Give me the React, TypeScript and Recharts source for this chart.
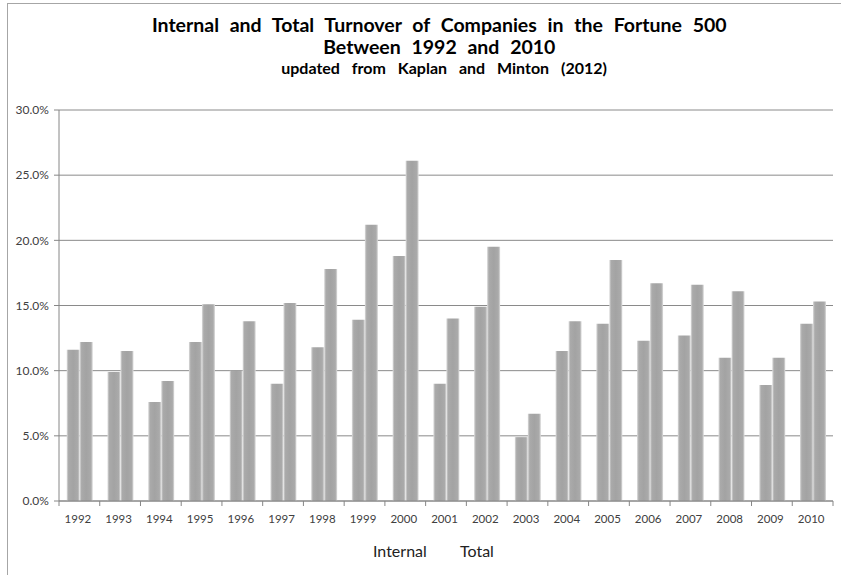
import React from "react";
import { BarChart, Bar, XAxis, YAxis, CartesianGrid } from "recharts";

const years = ["1992","1993","1994","1995","1996","1997","1998","1999","2000","2001","2002","2003","2004","2005","2006","2007","2008","2009","2010"];
const internal = [11.6, 9.9, 7.6, 12.2, 10.0, 9.0, 11.8, 13.9, 18.8, 9.0, 14.9, 4.9, 11.5, 13.6, 12.3, 12.7, 11.0, 8.9, 13.6];
const total = [12.2, 11.5, 9.2, 15.1, 13.8, 15.2, 17.8, 21.2, 26.1, 14.0, 19.5, 6.7, 13.8, 18.5, 16.7, 16.6, 16.1, 11.0, 15.3];
const yTicks = [0, 5, 10, 15, 20, 25, 30];
const titleLines = [
  "Internal and Total Turnover of Companies in the Fortune 500",
  "Between 1992 and 2010",
];
const subtitle = "updated from Kaplan and Minton (2012)";
const seriesNames = ["Internal", "Total"];

const data = years.map((y, i) => ({ year: y, internal: internal[i], total: total[i] }));

const W = 841;
const H = 575;
const margin = { top: 110, right: 8, bottom: 44, left: 0 };
const yAxisW = 59;
const xAxisH = 30;
const FONT = "Lato, 'Open Sans', sans-serif";
const NB = "\u00a0";

const plotW = W - margin.left - margin.right - yAxisW;
const band = plotW / years.length;

const XTick = (props: any) => {
  const { x, y, payload, index } = props;
  const isLast = index === years.length - 1;
  return (
    <g>
      <line x1={x - band / 2} x2={x - band / 2} y1={y - 8} y2={y - 3} stroke="#868686" />
      {isLast && <line x1={x + band / 2} x2={x + band / 2} y1={y - 8} y2={y - 3} stroke="#868686" />}
      <text x={x} y={y + 14} textAnchor="middle" fontSize={11.5} fill="#404040" fontFamily={FONT}>
        {payload.value + NB}
      </text>
    </g>
  );
};

export default function App() {
  return (
    <div style={{ position: "absolute", left: 0, top: 0, width: W, height: H, overflow: "hidden", background: "#fff" }}>
      <div style={{ position: "absolute", left: 7, top: 3, width: 1000, height: 1000, border: "1px solid #a6a6a6", boxSizing: "border-box" }} />
      <BarChart
        width={W}
        height={H}
        data={data}
        margin={margin}
        barCategoryGap="19%"
        barGap={0}
      >
        <defs>
          <linearGradient id="barGrad" x1="0" y1="0" x2="1" y2="0">
            <stop offset="0%" stopColor="#dcdcdc" />
            <stop offset="14%" stopColor="#aaaaaa" />
            <stop offset="50%" stopColor="#a3a3a3" />
            <stop offset="86%" stopColor="#aaaaaa" />
            <stop offset="100%" stopColor="#dcdcdc" />
          </linearGradient>
        </defs>
        <CartesianGrid vertical={false} stroke="#8a8a8a" />
        <XAxis
          dataKey="year"
          height={xAxisH}
          stroke="#868686"
          tickLine={false}
          tick={<XTick />}
          interval={0}
        />
        <YAxis
          width={yAxisW}
          domain={[0, 30]}
          ticks={yTicks}
          stroke="#868686"
          tickSize={5}
          tickMargin={2}
          tick={{ fontSize: 12, fill: "#404040", fontFamily: FONT }}
          tickFormatter={(v: number) => v.toFixed(1) + "%" + NB}
        />
        <Bar dataKey="internal" name={seriesNames[0]} fill="url(#barGrad)" isAnimationActive={false} />
        <Bar dataKey="total" name={seriesNames[1]} fill="url(#barGrad)" isAnimationActive={false} />
      </BarChart>
      <div style={{ position: "absolute", left: 0, width: 900, top: 14, textAlign: "center", fontFamily: FONT, fontWeight: 700, fontSize: 19.5, lineHeight: "22px", wordSpacing: 6, color: "#000", whiteSpace: "nowrap" }}>
        <div>{titleLines[0] + NB + NB}</div>
        <div>{titleLines[1] + NB + NB}</div>
      </div>
      <div style={{ position: "absolute", left: 0, width: 900, top: 59, textAlign: "center", fontFamily: FONT, fontWeight: 700, fontSize: 16, lineHeight: "18px", wordSpacing: 8, color: "#000", whiteSpace: "nowrap" }}>
        {subtitle + NB}
      </div>
      <div style={{ position: "absolute", left: 373, top: 541, fontFamily: FONT, fontSize: 16, color: "#222", whiteSpace: "pre" }}>
        {seriesNames[0] + NB}
      </div>
      <div style={{ position: "absolute", left: 460, top: 541, fontFamily: FONT, fontSize: 16, color: "#222", whiteSpace: "pre" }}>
        {seriesNames[1] + NB}
      </div>
    </div>
  );
}
